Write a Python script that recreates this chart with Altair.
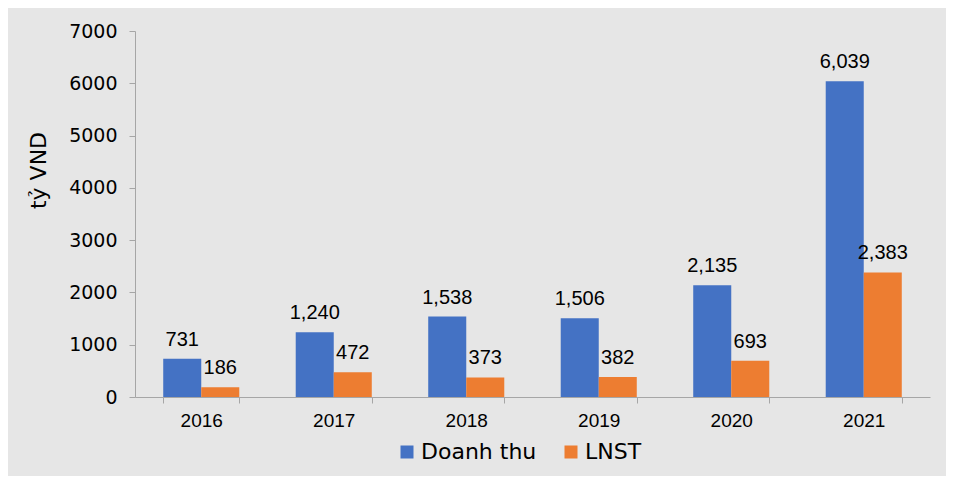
import altair as alt
import pandas as pd

years = ["2016", "2017", "2018", "2019", "2020", "2021"]
doanh_thu = [731, 1240, 1538, 1506, 2135, 6039]
lnst = [186, 472, 373, 382, 693, 2383]
series = ["Doanh thu", "LNST"]
colors = ["#4472C4", "#ED7D31"]
y_ticks = [0, 1000, 2000, 3000, 4000, 5000, 6000, 7000]

rows = []
for i, yr in enumerate(years):
    rows.append({"year": yr, "series": series[0], "value": doanh_thu[i]})
    rows.append({"year": yr, "series": series[1], "value": lnst[i]})
df = pd.DataFrame(rows)

axis_col = "#a6a6a6"

x_enc = alt.X("year:N", sort=years, title=None,
              scale=alt.Scale(paddingInner=0.426, paddingOuter=0.213),
              axis=alt.Axis(labelAngle=0, labelFont="Liberation Sans", labelFontSize=19,
                            labelColor="#000000", domainColor=axis_col, tickColor=axis_col,
                            tickSize=6, tickBand="extent", labelPadding=8, grid=False))
xo_enc = alt.XOffset("series:N", sort=series, scale=alt.Scale(paddingInner=0, paddingOuter=0))
y_enc = alt.Y("value:Q", scale=alt.Scale(domain=[0, 7000], nice=False),
              axis=alt.Axis(values=y_ticks, format="d", title="tỷ VND", grid=False,
                            labelFont="DejaVu Sans", labelFontSize=19, labelColor="#000000",
                            domainColor=axis_col, tickColor=axis_col, tickSize=6, labelPadding=12,
                            titleFont="DejaVu Sans", titleFontSize=22, titleFontWeight="normal",
                            titleColor="#000000", titleAngle=270, titleAlign="center",
                            titleBaseline="alphabetic", titleX=-90, titleY=139))

color_enc = alt.Color("series:N", sort=series,
                      scale=alt.Scale(domain=series, range=colors),
                      legend=alt.Legend(title=None, orient="none", direction="horizontal",
                                        legendX=261, legendY=410, padding=0,
                                        symbolType="square", symbolSize=169,
                                        symbolStrokeWidth=0, symbolOpacity=1,
                                        labelFont="DejaVu Sans", labelFontSize=22,
                                        labelColor="#000000", labelOffset=3,
                                        columnPadding=23))

bars = alt.Chart(df).mark_bar(opacity=1).encode(
    x=x_enc, xOffset=xo_enc, y=y_enc, color=color_enc
)

labels = alt.Chart(df).mark_text(
    font="Liberation Sans", fontSize=20, color="#000000", baseline="alphabetic", dy=-13
).encode(
    x=alt.X("year:N", sort=years),
    xOffset=alt.XOffset("series:N", sort=series),
    y=alt.Y("value:Q"),
    text=alt.Text("value:Q", format=",")
)

chart = alt.layer(bars, labels).properties(
    width=795, height=366,
    autosize=alt.AutoSizeParams(type="none"),
    padding={"left": 127, "top": 23, "right": 16, "bottom": 79},
    background="#e6e6e6"
).configure_view(stroke=None)

chart.save("out.html", embed_options={"renderer": "svg", "actions": False})
